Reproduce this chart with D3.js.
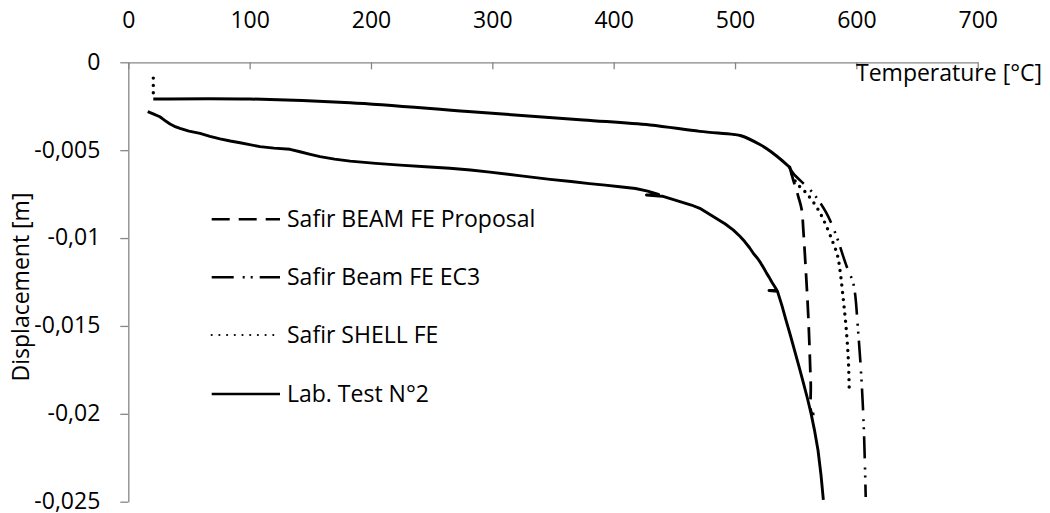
<!DOCTYPE html>
<html>
<head>
<meta charset="utf-8">
<script src="https://cdn.jsdelivr.net/npm/d3@7"></script>
<style>
  html, body { margin: 0; padding: 0; background: #fff; }
  svg { display: block; }
  text { font-family: "Open Sans", "Liberation Sans", sans-serif; fill: #000; }
</style>
</head>
<body>
<svg id="chart" width="1050" height="513"></svg>
<script>
// ---------- data ----------
const seriesNames = ["Safir BEAM FE Proposal", "Safir Beam FE EC3", "Safir SHELL FE", "Lab. Test N°2"];

const xTicks = [0, 100, 200, 300, 400, 500, 600, 700];
const xTickLabels = ["0", "100", "200", "300", "400", "500", "600", "700"];
const yTicks = [0, -0.005, -0.01, -0.015, -0.02, -0.025];
const yTickLabels = ["0", "-0,005", "-0,01", "-0,015", "-0,02", "-0,025"];

// common FE branch shared by the three Safir curves (temperature, displacement)
const feCommonT = [20.6, 100, 182.8, 280, 375, 430, 471, 498.5, 505, 520.5, 530, 540, 545];
const feCommonD = [-0.00209, -0.00209, -0.0023, -0.0028, -0.00328, -0.00357, -0.00393, -0.0041, -0.00418, -0.00468, -0.0051, -0.00566, -0.00597];

const beamPropT = [548, 552.2, 555, 556.3, 557.7, 560.4, 562.4, 563.2, 565.5];
const beamPropD = [-0.0067, -0.00765, -0.0084, -0.00955, -0.01107, -0.01448, -0.01827, -0.01996, -0.0200];

const beamEc3T = [548, 564.5, 575.5, 583.8, 589.3, 593, 597.5, 601.6, 604.4, 606.3, 607.7];
const beamEc3D = [-0.00632, -0.00746, -0.0086, -0.00993, -0.01107, -0.0118, -0.01258, -0.01543, -0.01827, -0.02112, -0.02473];

const shellStartT = [20.6, 20.6];
const shellStartD = [-0.0009, -0.00209];
const shellT = [550, 559, 568.7, 575.5, 581, 584.5, 586.5, 589.3, 591.5, 593.4, 594.2];
const shellD = [-0.0068, -0.00746, -0.0084, -0.00936, -0.0103, -0.0110, -0.01182, -0.01353, -0.01505, -0.01695, -0.01884];

const labT = [16, 21, 26, 30, 34.4, 38, 42.6, 50, 59.1, 67.3, 75.6, 84, 92.1, 100, 108.5, 120, 133.3, 141.5, 150, 158, 170, 182.8, 204, 224, 245, 265, 282, 298, 322, 347.6, 365, 380, 393, 405, 418, 428, 437, 427, 440, 448, 456, 464, 471, 478, 485, 492, 498.7, 504, 508, 512, 515.2, 518.5, 521, 524, 526.1, 528.3, 530.3, 532.4, 534.4, 528, 535, 538.5, 542, 545.5, 549, 552.7, 556.4, 559.6, 562.6, 565.7, 568.4, 570.9, 572.8];
const labD = [-0.00281, -0.00295, -0.0031, -0.0033, -0.00351, -0.00364, -0.00376, -0.00392, -0.00404, -0.00421, -0.00436, -0.00448, -0.00458, -0.00468, -0.0048, -0.00488, -0.00495, -0.00509, -0.00524, -0.00537, -0.00551, -0.00562, -0.00575, -0.00585, -0.00594, -0.00603, -0.00613, -0.00625, -0.00645, -0.00666, -0.00678, -0.0069, -0.00699, -0.00708, -0.00718, -0.00733, -0.00752, -0.00755, -0.00762, -0.00778, -0.00795, -0.00812, -0.00831, -0.0086, -0.0089, -0.0092, -0.00955, -0.0099, -0.0102, -0.01055, -0.01088, -0.01115, -0.0114, -0.01175, -0.01201, -0.01225, -0.0125, -0.01273, -0.01296, -0.01298, -0.01303, -0.0138, -0.01467, -0.0155, -0.01638, -0.0173, -0.01825, -0.0191, -0.01996, -0.021, -0.02207, -0.0235, -0.0249];

// ---------- build ----------
const zip = (T, D) => T.map((t, i) => [t, D[i]]);
const common = zip(feCommonT, feCommonD);
const lastCommon = common[common.length - 1];
const series = [
  { name: seriesNames[0], pts: [lastCommon].concat(zip(beamPropT, beamPropD)), dash: "18,9", cap: "butt", w: 2.75, smooth: true },
  { name: seriesNames[1], pts: [lastCommon].concat(zip(beamEc3T, beamEc3D)), dash: "22,9,2,6,2,7", cap: "butt", w: 2.6, smooth: true },
  { name: seriesNames[2], pts: zip(shellStartT, shellStartD), dash: "0,7.3", cap: "round", w: 3.4, smooth: true },
  { name: seriesNames[3], pts: zip(labT, labD), dash: null, cap: "butt", w: 2.9, smooth: false }
];
const shellBranch = [lastCommon].concat(zip(shellT, shellD));

const svg = d3.select("#chart");
const x = d3.scaleLinear().domain([0, 700]).range([128.3, 977.7]);
const y = d3.scaleLinear().domain([0, -0.025]).range([62.3, 501.7]);

const axisColor = "#868686";
const fontSize = 23;

// top x axis
const xAxis = d3.axisTop(x).tickValues(xTicks)
  .tickFormat((d, i) => xTickLabels[i])
  .tickSizeInner(-7).tickSizeOuter(0).tickPadding(34);
const gx = svg.append("g").attr("transform", `translate(0,${y(0)})`).call(xAxis);
gx.select(".domain").attr("stroke", axisColor).attr("stroke-width", 1.3);
gx.selectAll(".tick line").attr("stroke", axisColor).attr("stroke-width", 1.3);
gx.selectAll(".tick text").attr("font-size", fontSize).attr("fill", "#000")
  .style("font-family", '"Open Sans", sans-serif');

// left y axis
const yAxis = d3.axisLeft(y).tickValues(yTicks)
  .tickFormat((d, i) => yTickLabels[i])
  .tickSizeInner(8).tickSizeOuter(0).tickPadding(20);
const gy = svg.append("g").attr("transform", `translate(${x(0)},0)`).call(yAxis);
gy.select(".domain").attr("stroke", axisColor).attr("stroke-width", 1.3);
gy.selectAll(".tick line").attr("stroke", axisColor).attr("stroke-width", 1.3);
gy.selectAll(".tick text").attr("font-size", fontSize).attr("fill", "#000").attr("dy", "0.30em")
  .style("font-family", '"Open Sans", sans-serif');

// axis titles
svg.append("text").attr("x", 856).attr("y", 81).attr("font-size", fontSize)
  .text("Temperature [°C]");
svg.append("text").attr("transform", "translate(28.5,287) rotate(-90)")
  .attr("text-anchor", "middle").attr("font-size", fontSize)
  .text("Displacement [m]");

// lines
const lineSmooth = d3.line().x(d => x(d[0])).y(d => y(d[1])).curve(d3.curveCatmullRom.alpha(0.5));
const lineStraight = d3.line().x(d => x(d[0])).y(d => y(d[1]));
const gl = svg.append("g");
// overlapping part of the three Safir curves (reads as one solid line)
gl.append("path").attr("d", lineSmooth(common))
  .attr("fill", "none").attr("stroke", "#000").attr("stroke-width", 3)
  .attr("stroke-linejoin", "round");
gl.append("path").attr("d", lineSmooth(shellBranch))
  .attr("fill", "none").attr("stroke", "#000").attr("stroke-width", 3.4)
  .attr("stroke-linecap", "round").attr("stroke-dasharray", "0,7.3");
gl.selectAll("path.s").data(series).join("path").attr("class", "s")
  .attr("d", d => (d.smooth ? lineSmooth : lineStraight)(d.pts))
  .attr("fill", "none")
  .attr("stroke", "#000")
  .attr("stroke-width", d => d.w)
  .attr("stroke-linejoin", "round")
  .attr("stroke-linecap", d => d.cap)
  .attr("stroke-dasharray", d => d.dash);

// legend
const legY = [219.3, 277.3, 335, 394];
const leg = svg.append("g").selectAll("g").data(series).join("g")
  .attr("transform", (d, i) => `translate(0,${legY[i]})`);
leg.append("line").attr("x1", 211.7).attr("x2", 280).attr("y1", 0).attr("y2", 0)
  .attr("stroke", "#000")
  .attr("stroke-width", (d, i) => i === 2 ? 2.2 : 2.6)
  .attr("stroke-linecap", d => d.cap)
  .attr("stroke-dasharray", (d, i) => i === 2 ? "0,7.7" : d.dash);
leg.append("text").attr("x", 287).attr("dy", "0.33em").attr("font-size", fontSize)
  .text(d => d.name);
</script>
</body>
</html>
